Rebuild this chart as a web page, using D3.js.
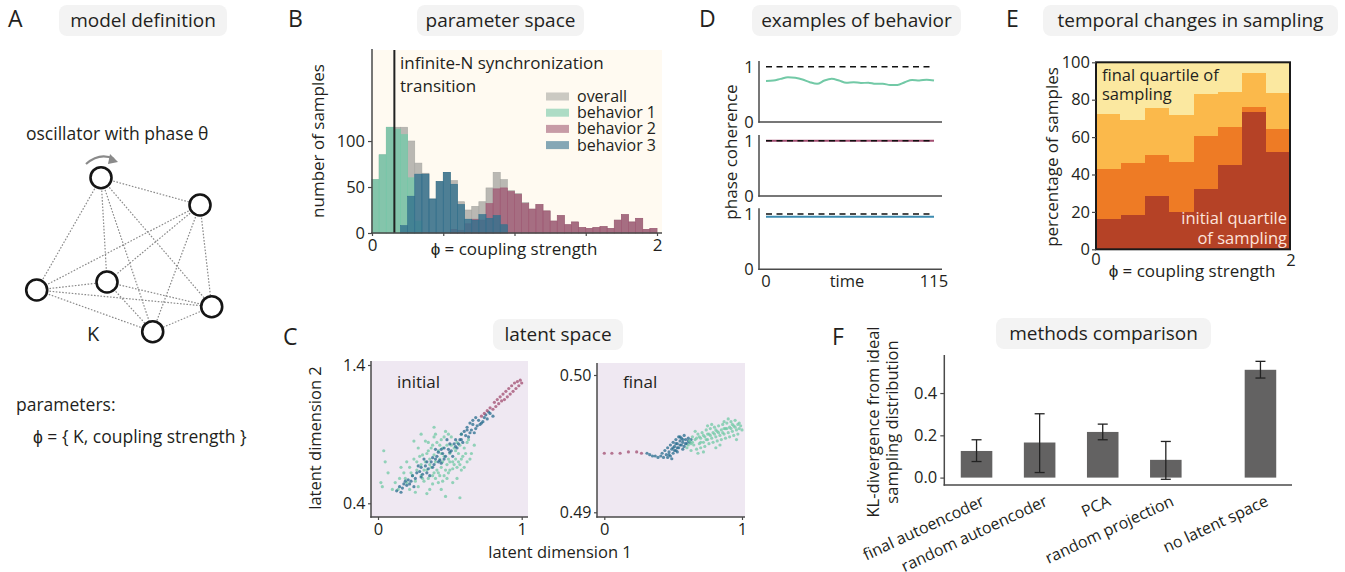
<!DOCTYPE html>
<html><head><meta charset="utf-8">
<script src="https://cdn.jsdelivr.net/npm/d3@7"></script>
<style>
body{margin:0;background:#fff;}
text{font-family:"Open Sans",sans-serif;fill:#231f20;}
</style></head><body>
<script>
// ---------- data ----------
// B: histogram counts, 40 bins of width 0.05 over phi in [0,2]
const histOverall = [58,85,115,115,115,100,76,65,37,56,66,57,34,25,29,34,49,66,58,46,43,33,26,31,24,13,19,9,12,6,5,6,7,5,14,20,12,16,4,5];
const histB1 = [58,85,115,113,107,60,13,0,0,0,0,0,0,0,0,0,0,0,0,0,0,0,0,0,0,0,0,0,0,0,0,0,0,0,0,0,0,0,0,0];
const histB2 = [0,0,0,0,0,0,0,0,0,0,0,4,3,10,15,14,32,48,49,45,42,32,26,31,24,13,19,9,12,6,5,6,7,5,14,20,12,16,4,5];
const histB3 = [0,0,0,0,8,40,64,64,37,56,66,53,31,15,14,20,16,19,9,0,0,0,0,0,0,0,0,0,0,0,0,0,0,0,0,0,0,0,0,0];
const transitionPhi = 0.157;
const legendNames = ["overall", "behavior 1", "behavior 2", "behavior 3"];

// D: phase coherence examples
const timeSteps = [0,5,10,15,20,25,30,35,40,45,50,55,60,65,70,75,80,85,90,95,100,105,110,115];
const coh1 = [0.74,0.75,0.78,0.81,0.80,0.77,0.72,0.69,0.75,0.78,0.75,0.71,0.72,0.705,0.71,0.69,0.69,0.67,0.67,0.72,0.76,0.75,0.765,0.75];
const coh2 = [1,1,1,1,1,1,1,1,1,1,1,1,1,1,1,1,1,1,1,1,1,1,1,1];
const coh3 = [0.95,0.95,0.95,0.95,0.95,0.95,0.95,0.95,0.95,0.95,0.95,0.95,0.95,0.95,0.95,0.95,0.95,0.95,0.95,0.95,0.95,0.95,0.95,0.95];

// E: percentage of samples per quartile of sampling, 8 bins over phi in [0,2]
const quartile1 = [16.2,18.4,28.5,20.0,32.3,45.1,73.4,52.0];
const quartile2 = [26.8,27.8,21.9,26.7,28.3,20.3,2.7,12.3];
const quartile3 = [29.4,23.0,25.2,25.1,22.4,18.7,18.2,19.3];
const quartile4 = [27.6,30.8,24.4,28.2,17.0,15.9,5.7,16.4];

// C: latent space samples [x, y]
const initTeal = [[0.02,0.55],[0.03,0.52],[0.10,0.50],[0.12,0.55],[0.15,0.58],[0.14,0.50],[0.18,0.62],[0.20,0.55],[0.22,0.66],[0.22,0.50],[0.24,0.60],[0.25,0.72],[0.26,0.56],[0.27,0.64],[0.28,0.80],[0.28,0.52],[0.30,0.68],[0.30,0.60],[0.31,0.75],[0.32,0.56],[0.33,0.70],[0.33,0.85],[0.34,0.64],[0.35,0.78],[0.35,0.58],[0.36,0.72],[0.37,0.66],[0.38,0.82],[0.38,0.60],[0.39,0.75],[0.40,0.70],[0.40,0.90],[0.41,0.64],[0.42,0.78],[0.42,0.55],[0.43,0.72],[0.44,0.86],[0.44,0.66],[0.45,0.80],[0.46,0.60],[0.46,0.74],[0.47,0.92],[0.48,0.68],[0.48,0.82],[0.49,0.62],[0.50,0.76],[0.50,0.70],[0.51,0.88],[0.52,0.65],[0.53,0.80],[0.54,0.72],[0.55,0.58],[0.55,0.84],[0.56,0.76],[0.57,0.68],[0.58,0.90],[0.59,0.74],[0.60,0.80],[0.62,0.70],[0.63,0.86],[0.65,0.76],[0.67,0.82],[0.36,0.50],[0.30,0.90],[0.25,0.85],[0.47,0.45],[0.20,0.70],[0.39,0.95],[0.52,0.55],[0.44,0.50],[0.58,0.64],[0.34,0.47],[0.16,0.66],[0.07,0.62],[0.04,0.78],[0.05,0.70],[0.57,0.44],
  [0.29,0.74],[0.31,0.58],[0.34,0.76],[0.36,0.68],[0.37,0.80],[0.39,0.62],[0.41,0.84],[0.43,0.60],[0.45,0.70],[0.46,0.88],[0.47,0.64],[0.49,0.72],[0.50,0.64],[0.51,0.82],[0.53,0.68],[0.54,0.78],[0.56,0.70],[0.57,0.82],[0.58,0.72],[0.60,0.66],[0.61,0.76],[0.62,0.84],[0.64,0.72],[0.38,0.54],[0.42,0.62],[0.45,0.56],[0.48,0.58],[0.40,0.58],[0.32,0.64],[0.35,0.84],[0.44,0.76],[0.52,0.70],[0.27,0.70],[0.23,0.62],[0.19,0.58],[0.26,0.48],[0.49,0.90],[0.55,0.66],[0.43,0.82],[0.39,0.88]];
const initBlue = [[0.13,0.49],[0.15,0.52],[0.17,0.51],[0.18,0.54],[0.20,0.53],[0.21,0.57],[0.23,0.56],[0.24,0.60],[0.26,0.58],[0.27,0.62],[0.29,0.63],[0.30,0.66],[0.31,0.61],[0.33,0.67],[0.34,0.70],[0.35,0.65],[0.37,0.70],[0.38,0.73],[0.39,0.68],[0.41,0.74],[0.42,0.77],[0.43,0.71],[0.45,0.76],[0.46,0.80],[0.47,0.74],[0.49,0.79],[0.50,0.83],[0.51,0.78],[0.53,0.83],[0.54,0.86],[0.55,0.80],[0.57,0.86],[0.58,0.90],[0.59,0.84],[0.61,0.89],[0.62,0.93],[0.63,0.88],[0.65,0.93],[0.66,0.97],[0.67,0.91],[0.69,0.96],[0.70,1.00],[0.72,0.98],[0.74,1.02],[0.76,1.01],[0.78,1.05],[0.80,1.03],[0.36,0.60],[0.28,0.67],[0.44,0.69],[0.52,0.74],[0.40,0.79],[0.32,0.72],[0.25,0.52],[0.48,0.86],
  [0.60,0.92],[0.62,0.95],[0.64,0.98],[0.66,1.00],[0.68,1.02],[0.56,0.83],[0.58,0.86],[0.64,0.91],[0.68,0.94],[0.71,0.97],[0.73,0.99],[0.75,1.04],[0.77,1.06],[0.42,0.70],[0.46,0.72],[0.50,0.77],[0.54,0.81],[0.38,0.66],[0.34,0.62],[0.30,0.59],[0.22,0.54],[0.16,0.48],[0.19,0.56],[0.44,0.79],[0.40,0.72]];
const initPink = [[0.72,1.03],[0.74,1.05],[0.76,1.07],[0.78,1.09],[0.80,1.08],[0.82,1.10],[0.84,1.12],[0.86,1.14],[0.85,1.17],[0.87,1.19],[0.88,1.15],[0.90,1.17],[0.89,1.21],[0.91,1.23],[0.92,1.19],[0.94,1.21],[0.93,1.25],[0.95,1.27],[0.96,1.23],[0.98,1.25],[0.97,1.28],[0.99,1.29],[1.00,1.27],[0.83,1.15],[0.81,1.13]];
const finalPink = [[0.00,0.4943],[0.055,0.4943],[0.115,0.4943],[0.175,0.4944],[0.235,0.4944],[0.27,0.4943]];
const finalBlue = [[0.31,0.4943],[0.33,0.4942],[0.35,0.4941],[0.37,0.4941],[0.39,0.4940],[0.41,0.4941],[0.42,0.4943],[0.43,0.4940],[0.44,0.4945],[0.45,0.4942],[0.46,0.4947],[0.47,0.4944],[0.48,0.4949],[0.48,0.4941],[0.49,0.4946],[0.50,0.4951],[0.50,0.4943],[0.51,0.4948],[0.52,0.4953],[0.52,0.4945],[0.53,0.4950],[0.54,0.4955],[0.54,0.4947],[0.55,0.4952],[0.56,0.4949],[0.56,0.4954],[0.57,0.4951],[0.58,0.4956],[0.58,0.4948],[0.59,0.4953],[0.60,0.4950],[0.61,0.4954],[0.62,0.4951],[0.63,0.4953],[0.46,0.4940],[0.49,0.4939],[0.53,0.4944],[0.57,0.4946],
  [0.50,0.4947],[0.53,0.4947],[0.55,0.4949],[0.59,0.4950],[0.61,0.4952],[0.47,0.4942],[0.51,0.4945],[0.57,0.4953],[0.55,0.4955],[0.52,0.4950]];
const finalTeal = [[0.60,0.4947],[0.62,0.4952],[0.63,0.4945],[0.64,0.4955],[0.65,0.4949],[0.66,0.4953],[0.67,0.4946],[0.68,0.4957],[0.69,0.4950],[0.70,0.4954],[0.70,0.4947],[0.71,0.4958],[0.72,0.4951],[0.73,0.4955],[0.73,0.4948],[0.74,0.4960],[0.75,0.4953],[0.76,0.4957],[0.76,0.4950],[0.77,0.4961],[0.78,0.4954],[0.79,0.4958],[0.79,0.4951],[0.80,0.4962],[0.81,0.4955],[0.82,0.4959],[0.82,0.4952],[0.83,0.4963],[0.84,0.4956],[0.85,0.4960],[0.85,0.4953],[0.86,0.4964],[0.87,0.4957],[0.88,0.4961],[0.88,0.4954],[0.89,0.4965],[0.90,0.4958],[0.91,0.4962],[0.91,0.4955],[0.92,0.4966],[0.93,0.4959],[0.94,0.4963],[0.94,0.4956],[0.95,0.4967],[0.96,0.4960],[0.97,0.4964],[0.97,0.4957],[0.98,0.4961],[0.99,0.4963],[1.00,0.4960],[0.66,0.4959],[0.72,0.4944],[0.78,0.4964],[0.84,0.4949],[0.90,0.4968],[0.96,0.4953],[0.68,0.4943],[0.75,0.4963],[0.81,0.4947],[0.87,0.4966],
  [0.61,0.4949],[0.64,0.4951],[0.67,0.4954],[0.70,0.4951],[0.72,0.4956],[0.74,0.4953],[0.77,0.4956],[0.80,0.4957],[0.83,0.4958],[0.86,0.4958],[0.89,0.4961],[0.92,0.4961],[0.95,0.4962],[0.98,0.4965],[0.93,0.4964],[0.87,0.4961],[0.81,0.4960],[0.75,0.4957],[0.69,0.4955],[0.63,0.4950]];

// F: methods comparison
const methods = ["final autoencoder", "random autoencoder", "PCA", "random projection", "no latent space"];
const methodPos = [0, 1, 2, 3, 4.5];
const klMean = [0.126, 0.166, 0.216, 0.084, 0.51];
const klLow = [0.076, 0.024, 0.179, -0.008, 0.471];
const klHigh = [0.179, 0.302, 0.253, 0.171, 0.55];

// ---------- helpers ----------
const svg = d3.select("body").append("svg").attr("width", 1345).attr("height", 572);
const ink = "#231f20", spineCol = "#4a4a4a";
const cTeal = "#72c9a6", cPink = "#a24d70", cBlue = "#276c8d";

function txt(g, x, y, s, size, anchor = "start", fill = ink) {
  return g.append("text").attr("x", x).attr("y", y).text(s)
    .style("font-size", size + "px").attr("text-anchor", anchor).style("fill", fill);
}
function vtxt(g, x, y, s, size) {
  return g.append("text").attr("transform", `translate(${x},${y}) rotate(-90)`)
    .attr("text-anchor", "middle").style("font-size", size + "px").text(s);
}
function line(g, x1, y1, x2, y2, col = spineCol, w = 1.5) {
  return g.append("line").attr("x1", x1).attr("y1", y1).attr("x2", x2).attr("y2", y2)
    .attr("stroke", col).attr("stroke-width", w);
}
function styleAxis(sel, size) {
  sel.select(".domain").remove();
  sel.selectAll(".tick line").attr("stroke", spineCol).attr("stroke-width", 1.2);
  sel.selectAll(".tick text").style("font-size", size + "px");
}

// panel letters and title boxes
[["A", 8, 27], ["B", 288, 27], ["D", 699, 27], ["E", 1006, 27], ["C", 283, 345], ["F", 832, 345]]
  .forEach(([t, x, y]) => txt(svg, x, y, t, 23));
[["model definition", 59, 227, 5], ["parameter space", 417, 584, 5], ["examples of behavior", 752, 961, 5],
 ["temporal changes in sampling", 1043, 1338, 5], ["latent space", 493, 623, 319], ["methods comparison", 996, 1211, 318]]
  .forEach(([t, x0, x1, y0]) => {
    svg.append("rect").attr("x", x0).attr("y", y0).attr("width", x1 - x0).attr("height", 31)
      .attr("rx", 8).attr("fill", "#f3f3f3");
    txt(svg, (x0 + x1) / 2, y0 + 22, t, 19, "middle");
  });

// ---------- A: model definition ----------
const gA = svg.append("g");
const nodes = [[101, 177.7], [200, 205], [36.7, 290], [107, 282], [211.7, 306.7], [152.7, 331.7]];
for (let i = 0; i < nodes.length; i++)
  for (let j = i + 1; j < nodes.length; j++)
    line(gA, nodes[i][0], nodes[i][1], nodes[j][0], nodes[j][1], "#8a8a8a", 1.2).attr("stroke-dasharray", "1.6,1.6");
gA.selectAll("circle").data(nodes).enter().append("circle")
  .attr("cx", d => d[0]).attr("cy", d => d[1]).attr("r", 10.5)
  .attr("fill", "#fff").attr("stroke", "#151515").attr("stroke-width", 2.6);
gA.append("path").attr("d", "M86,164 Q100,152 114,159").attr("fill", "none")
  .attr("stroke", "#8a8a8a").attr("stroke-width", 2.2);
gA.append("path").attr("d", "M110,154 L118,162 L108,164 Z").attr("fill", "#8a8a8a");
txt(gA, 26, 140, "oscillator with phase θ", 17.5);
txt(gA, 93, 341, "K", 20, "middle");
txt(gA, 16, 411, "parameters:", 17.5);
txt(gA, 33, 443, "ϕ = { K, coupling strength }", 17.5);

// ---------- B: parameter space ----------
const gB = svg.append("g");
const bx = d3.scaleLinear().domain([0, 2]).range([372, 657]);
const by = d3.scaleLinear().domain([0, 199]).range([233, 50]);
const binW = 0.05;
gB.append("rect").attr("x", 372).attr("y", 50).attr("width", 290).attr("height", 183).attr("fill", "#fffaf1");
const histSeries = [[histOverall, "#a9a8a4", 0.8], [histB1, "#77c8a9", 0.8], [histB2, "#a15b75", 0.8], [histB3, "#33708d", 0.8]];
histSeries.forEach(([vals, col, op]) => {
  gB.append("g").selectAll("rect").data(vals).enter().append("rect")
    .attr("x", (d, i) => bx(i * binW)).attr("width", bx(binW) - bx(0))
    .attr("y", d => by(d)).attr("height", d => by(0) - by(d))
    .attr("fill", col).attr("fill-opacity", op)
    .attr("stroke", col).attr("stroke-width", 0.6);
});
line(gB, bx(transitionPhi), 50, bx(transitionPhi), 233, "#222", 2);
const bL = gB.append("g").attr("transform", "translate(372,0)")
  .call(d3.axisLeft(by).tickValues([0, 50, 100]).tickSize(4).tickPadding(3));
styleAxis(bL, 16.5);
const bB = gB.append("g").attr("transform", "translate(0,233)")
  .call(d3.axisBottom(bx).tickValues([0, 0.5, 1, 1.5, 2]).tickFormat(d => (d === 0 || d === 2) ? d : "").tickSize(3).tickPadding(3));
styleAxis(bB, 17);
line(gB, 372, 49, 372, 234);
line(gB, 371, 233, 662, 233);
vtxt(gB, 324, 141, "number of samples", 17);
txt(gB, 514, 255, "ϕ = coupling strength", 17, "middle");
txt(gB, 400, 69, "infinite-N synchronization", 17);
txt(gB, 400, 92, "transition", 17);
legendNames.forEach((n, i) => {
  const cy = 96.5 + i * 16.2;
  gB.append("rect").attr("x", 546).attr("y", cy - 4).attr("width", 23).attr("height", 8)
    .attr("fill", histSeries[i][1]).attr("fill-opacity", 0.6);
  txt(gB, 577, cy + 5.5, n, 16);
});

// ---------- D: examples of behavior ----------
const gD = svg.append("g");
const xD = d3.scaleLinear().domain([0, 115]).range([766, 934]);
const dBottoms = [122, 196, 269.3];
const dSeries = [[coh1, cTeal], [coh2, cPink], [coh3, "#3d8bb0"]];
dBottoms.forEach((b, k) => {
  const yD = d3.scaleLinear().domain([0, 1]).range([b, b - 55.3]);
  gD.append("path").datum(dSeries[k][0])
    .attr("d", d3.line().x((d, i) => xD(timeSteps[i])).y(d => yD(d)).curve(d3.curveMonotoneX))
    .attr("fill", "none").attr("stroke", dSeries[k][1]).attr("stroke-width", 2);
  line(gD, xD(0), yD(1), xD(115), yD(1), "#111", 1.4).attr("stroke-dasharray", "6,4.5");
  line(gD, 759, b - 61, 759, b + 0.7);
  line(gD, 758.3, b, 942, b);
  txt(gD, 749, yD(1) + 6, "1", 16.5, "middle");
  txt(gD, 749, yD(0) + 6, "0", 16.5, "middle");
});
vtxt(gD, 737, 152, "phase coherence", 17);
txt(gD, xD(0), 287, "0", 16.5, "middle");
txt(gD, xD(115), 287, "115", 16.5, "middle");
txt(gD, 847, 287, "time", 16.5, "middle");

// ---------- E: temporal changes in sampling ----------
const gE = svg.append("g");
const xE = d3.scaleLinear().domain([0, 2]).range([1096, 1290]);
const yE = d3.scaleLinear().domain([0, 100]).range([249.3, 62.3]);
const eRows = quartile1.map((q, i) => ({bin: i, q1: q, q2: quartile2[i], q3: quartile3[i], q4: quartile4[i]}));
const eStack = d3.stack().keys(["q1", "q2", "q3", "q4"])(eRows);
const eColors = ["#b54226", "#ee7b25", "#fbb94b", "#fbe8a0"];
eStack.forEach((layer, k) => {
  gE.append("g").selectAll("rect").data(layer).enter().append("rect")
    .attr("x", d => xE(d.data.bin * 0.25)).attr("width", xE(0.25) - xE(0) + 0.6)
    .attr("y", d => yE(Math.min(d[1], 100))).attr("height", d => yE(d[0]) - yE(Math.min(d[1], 100)) + 0.4)
    .attr("fill", eColors[k]).attr("shape-rendering", "crispEdges");
});
gE.append("rect").attr("x", 1096).attr("y", 62.3).attr("width", 194).attr("height", 187)
  .attr("fill", "none").attr("stroke", "#1a1a1a").attr("stroke-width", 2);
const eL = gE.append("g").attr("transform", "translate(1096,0)")
  .call(d3.axisLeft(yE).tickValues([0, 20, 40, 60, 80, 100]).tickSize(4).tickPadding(2));
styleAxis(eL, 16.5);
txt(gE, 1096, 265, "0", 16.5, "middle");
txt(gE, 1291, 266, "2", 16.5, "middle");
txt(gE, 1192, 277, "ϕ = coupling strength", 17, "middle");
vtxt(gE, 1058, 157, "percentage of samples", 17);
txt(gE, 1102, 81, "final quartile of", 16.5);
txt(gE, 1102, 100, "sampling", 16.5);
txt(gE, 1287, 224, "initial quartile", 16.5, "end", "#fde4dc");
txt(gE, 1287, 244, "of sampling", 16.5, "end", "#fde4dc");

// ---------- C: latent space ----------
const gC = svg.append("g");
function scatterPanel(cfg) {
  const {x0, x1, y0, y1, xs, ys, yTicks, fmt, layers, name, nameX} = cfg;
  gC.append("rect").attr("x", x0).attr("y", y0).attr("width", x1 - x0).attr("height", y1 - y0).attr("fill", "#efe8f2");
  layers.forEach(([pts, col]) => {
    gC.append("g").selectAll("circle").data(pts).enter().append("circle")
      .attr("cx", d => xs(d[0])).attr("cy", d => ys(d[1])).attr("r", 1.6)
      .attr("fill", col).attr("fill-opacity", 0.75);
  });
  const l = gC.append("g").attr("transform", `translate(${x0},0)`)
    .call(d3.axisLeft(ys).tickValues(yTicks).tickFormat(d3.format(fmt)).tickSize(3).tickPadding(2.5));
  styleAxis(l, 16);
  const b = gC.append("g").attr("transform", `translate(0,${y1})`)
    .call(d3.axisBottom(xs).tickValues([0, 1]).tickFormat(d3.format("d")).tickSize(3).tickPadding(3));
  styleAxis(b, 16.5);
  line(gC, x0, y0, x0, y1 + 0.7);
  line(gC, x0 - 0.7, y1, x1, y1);
  txt(gC, nameX, 388, name, 17);
}
scatterPanel({x0: 371, x1: 528, y0: 361, y1: 517,
  xs: d3.scaleLinear().domain([0, 1]).range([378, 521.7]),
  ys: d3.scaleLinear().domain([0.4, 1.4]).range([503.3, 365]),
  yTicks: [0.4, 1.4], fmt: ".1f", name: "initial", nameX: 397,
  layers: [[initTeal, cTeal], [initBlue, cBlue], [initPink, cPink]]});
scatterPanel({x0: 597, x1: 745, y0: 363, y1: 517,
  xs: d3.scaleLinear().domain([0, 1]).range([604.3, 742]),
  ys: d3.scaleLinear().domain([0.49, 0.50]).range([512.3, 375]),
  yTicks: [0.49, 0.50], fmt: ".2f", name: "final", nameX: 623,
  layers: [[finalPink, cPink], [finalBlue, cBlue], [finalTeal, cTeal]]});
vtxt(gC, 321, 438, "latent dimension 2", 16.5);
txt(gC, 560, 558, "latent dimension 1", 16.5, "middle");

// ---------- F: methods comparison ----------
const gF = svg.append("g");
const xF = d3.scaleLinear().domain([-0.5, 5]).range([945, 1292]);
const yF = d3.scaleLinear().domain([-0.035, 0.58]).range([485, 355]);
const barHalf = 0.25;
gF.selectAll("rect").data(klMean).enter().append("rect")
  .attr("x", (d, i) => xF(methodPos[i] - barHalf)).attr("width", xF(barHalf) - xF(-barHalf))
  .attr("y", d => yF(d)).attr("height", d => yF(0) - yF(d)).attr("fill", "#636262");
methods.forEach((m, i) => {
  const cx = xF(methodPos[i]);
  line(gF, cx, yF(klLow[i]), cx, yF(klHigh[i]), "#222", 1.3);
  line(gF, cx - 5, yF(klLow[i]), cx + 5, yF(klLow[i]), "#222", 1.3);
  line(gF, cx - 5, yF(klHigh[i]), cx + 5, yF(klHigh[i]), "#222", 1.3);
  gF.append("text").attr("transform", `translate(${cx + 9},${505}) rotate(-25)`)
    .attr("text-anchor", "end").style("font-size", "16px").text(m);
});
const fL = gF.append("g").attr("transform", "translate(944.3,0)")
  .call(d3.axisLeft(yF).tickValues([0, 0.2, 0.4]).tickFormat(d3.format(".1f")).tickSize(4).tickPadding(3));
styleAxis(fL, 16.5);
line(gF, 944.3, 355, 944.3, 485.7);
line(gF, 943.6, 485, 1292, 485);
vtxt(gF, 879, 422, "KL-divergence from ideal", 16.5);
vtxt(gF, 898, 422, "sampling distribution", 16.5);
</script>
</body></html>
